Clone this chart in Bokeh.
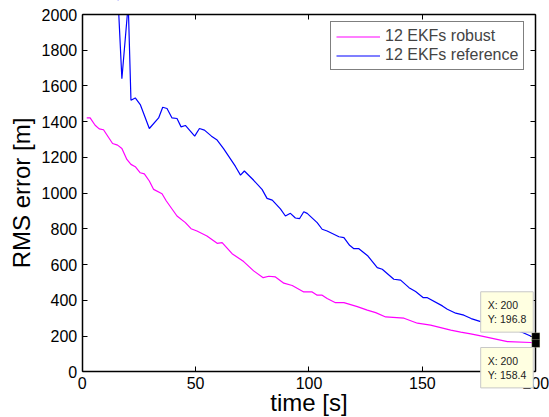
from math import pi
from bokeh.plotting import figure
from bokeh.models import (Range1d, LinearAxis, FixedTicker, Label, Legend,
                          LegendItem, BoxAnnotation)
from bokeh.embed import file_html
from bokeh.resources import INLINE

# ---- data ----
t_robust = [2, 3.5, 5.7, 7.5, 9.4, 13.4, 15.6, 17.5, 19.7, 21.5, 23.4, 25.6, 27.4,
            29.6, 31.5, 35.2, 37.1, 41.8, 45.5, 48, 50.6, 55, 59.5, 61.7, 66.1,
            71.2, 75.6, 79.8, 82.3, 85.2, 88.9, 92.6, 97.7, 101.4, 103.6, 105.8,
            108, 111.7, 115.4, 121.3, 125.7, 129.4, 133.8, 141.9, 147.8, 153.6,
            162.5, 166.9, 171.3, 175.7, 187.5, 197.8, 200]
rms_robust = [1421, 1421, 1380, 1360, 1355, 1278, 1269, 1250, 1189, 1161, 1148,
              1114, 1108, 1068, 1021, 997, 956, 872, 835, 801, 788, 760, 719, 723,
              661, 617, 565, 527, 535, 531, 496, 483, 447, 447, 429, 429, 410,
              387, 387, 365, 345, 331, 307, 300, 272, 261, 233, 222, 212, 201,
              169, 164, 158.4]

t_ref = [1, 5, 10, 15, 17.5, 20.3, 21.5, 23.4, 25.6, 29.6, 33.7, 35.5, 37.4,
         39.6, 41.8, 43.6, 45.5, 49.6, 51.7, 53.9, 57, 59.5, 62.4, 67.5, 69.8,
         71.5, 75.6, 79.3, 81.5, 83.8, 87.4, 89.6, 91.8, 94, 95.8, 97.7, 99.2,
         103.6, 105.8, 108, 113.2, 115.4, 117.9, 119.8, 122, 126, 130.1, 132.3,
         137.4, 140.4, 144.1, 147, 150.4, 152.2, 158.8, 161, 164.7, 168.3,
         171.5, 175.7, 180, 185, 190, 194.2, 197.9, 200]
rms_ref = [4200, 3400, 2750, 2300, 1640, 2060, 1520, 1533, 1496, 1362, 1421,
           1481, 1474, 1421, 1418, 1371, 1379, 1319, 1362, 1353, 1319, 1297,
           1248, 1151, 1101, 1124, 1072, 1021, 971, 961, 912, 872, 887, 861,
           857, 896, 887, 835, 798, 788, 756, 751, 708, 689, 689, 648, 583, 574,
           518, 513, 471, 449, 415, 415, 369, 350, 328, 317, 298, 281, 268, 253,
           236, 220, 199, 196.8]

x_ticks = [0, 50, 100, 150, 200]
y_ticks = [0, 200, 400, 600, 800, 1000, 1200, 1400, 1600, 1800, 2000]
x_lim = (0, 200)
y_lim = (0, 2000)

series_names = ["12 EKFs robust", "12 EKFs reference"]
tip_x = 200
tip_ref = 196.8
tip_robust = 158.4
tip_ref_text = "X: 200\nY: 196.8"
tip_robust_text = "X: 200\nY: 158.4"

FONT = "Liberation Sans"

# The frame covers the whole canvas; the axes sit at fixed data locations so
# that titles and data tips may lie outside the axes box, as in the reference.
p = figure(width=549, height=417, output_backend="svg", toolbar_location=None,
           x_range=Range1d(-36.02, 206.04), y_range=Range1d(-255.8, 2078.4),
           min_border_left=0, min_border_right=0, min_border_top=0,
           min_border_bottom=0)
p.xgrid.visible = False
p.ygrid.visible = False
p.outline_line_color = None
p.background_fill_color = "white"
p.border_fill_color = "white"


def style_axis(ax, show_labels=True):
    ax.axis_line_color = "black"
    ax.axis_line_width = 1.5
    ax.major_tick_in = 5
    ax.major_tick_out = 0
    ax.major_tick_line_color = "black"
    ax.major_tick_line_width = 1
    ax.minor_tick_line_color = None
    if show_labels:
        ax.major_label_text_font = FONT
        ax.major_label_text_font_size = "16px"
        ax.major_label_text_color = "black"
        ax.major_label_standoff = 5
        ax.axis_label_text_font = FONT
        ax.axis_label_text_font_size = "24px"
        ax.axis_label_text_font_style = "normal"
        ax.axis_label_text_color = "black"
    else:
        ax.major_label_text_color = None
        ax.major_label_standoff = 0


xa = p.xaxis[0]
ya = p.yaxis[0]
xa.ticker = FixedTicker(ticks=x_ticks)
ya.ticker = FixedTicker(ticks=y_ticks)
xa.bounds = x_lim
ya.bounds = y_lim
xa.fixed_location = y_lim[0]
ya.fixed_location = x_lim[0]
style_axis(xa)
style_axis(ya)
xa.axis_label = "time [s]"
ya.axis_label = "RMS error [m]"
xa.axis_label_standoff = -3
ya.axis_label_standoff = 4

top_ax = LinearAxis(ticker=FixedTicker(ticks=x_ticks), bounds=x_lim,
                    fixed_location=y_lim[1])
right_ax = LinearAxis(ticker=FixedTicker(ticks=y_ticks), bounds=y_lim,
                      fixed_location=x_lim[1])
style_axis(top_ax, False)
style_axis(right_ax, False)
p.add_layout(top_ax, "above")
p.add_layout(right_ax, "right")

r_rob = p.line(t_robust, rms_robust, line_color="#FF00FF", line_width=1.2)
r_ref = p.line(t_ref, rms_ref, line_color="#0000FF", line_width=1.2)

# white mask hiding the part of the curves above the top of the axes box
p.add_layout(BoxAnnotation(left=x_lim[0], right=x_lim[1], bottom=y_lim[1],
                           top=3000, fill_color="white", fill_alpha=1,
                           line_color=None, level="glyph"))

legend = Legend(items=[LegendItem(label=series_names[0], renderers=[r_rob]),
                       LegendItem(label=series_names[1], renderers=[r_ref])],
                location=(330, 347), margin=0, padding=5, spacing=1,
                glyph_width=44, glyph_height=17, label_height=17,
                label_standoff=5, label_text_font=FONT,
                label_text_font_size="16px", border_line_color="black",
                border_line_width=1, background_fill_color="white",
                background_fill_alpha=1)
p.add_layout(legend, "center")

# datatip markers
for v in (tip_ref, tip_robust):
    p.add_layout(BoxAnnotation(left=tip_x - 1.8, right=tip_x + 1.8,
                               bottom=v - 22, top=v + 22,
                               fill_color="black", fill_alpha=1,
                               line_color="#FFFFD8", line_width=1))

# datatip boxes
for (yv, txt) in ((448, tip_ref_text), (136, tip_robust_text)):
    p.add_layout(Label(x=175.7, y=yv, text=txt, text_align="left",
                       text_baseline="top", text_font=FONT,
                       text_font_size="10.5px", text_color="#222222",
                       padding=7, background_fill_color="#FFFFE1",
                       background_fill_alpha=1, border_line_color="#C8C8C8",
                       border_line_width=1))

open("out.html", "w").write(file_html(p, INLINE))
